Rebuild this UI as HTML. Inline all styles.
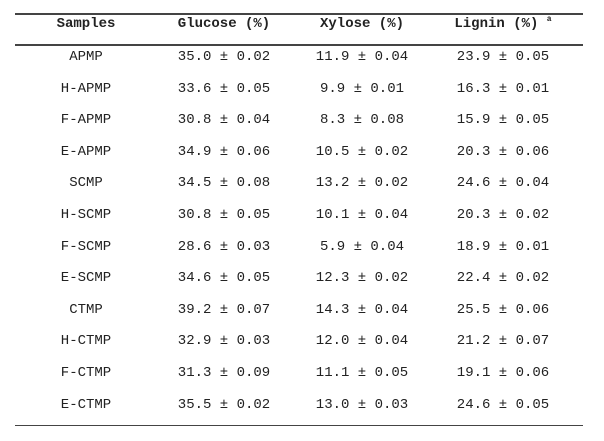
<!DOCTYPE html>
<html><head><meta charset="utf-8"><style>
body{margin:0;width:604px;height:441px;background:#fff;position:relative;font-family:"Liberation Mono","Noto Sans CJK SC",monospace;font-size:14px;color:#222;overflow:hidden}
.l{position:absolute;left:15px;width:568px;background:#444}
.c{position:absolute;transform:translateX(-50%);white-space:pre;line-height:16px;height:16px}
.h{font-weight:bold}
.s{font-size:8px;position:relative;top:-6px;line-height:0}
</style></head><body>
<div class="l" style="top:13px;height:2px"></div>
<div class="l" style="top:44px;height:2px"></div>
<div class="l" style="top:425px;height:1px"></div>
<div id="t"></div>
<script>
var rows=[["Samples","Glucose (%)","Xylose (%)","Lignin (%) <span class=\"s\">a</span>"],
["APMP","35.0 ± 0.02","11.9 ± 0.04","23.9 ± 0.05"],
["H-APMP","33.6 ± 0.05","9.9 ± 0.01","16.3 ± 0.01"],
["F-APMP","30.8 ± 0.04","8.3 ± 0.08","15.9 ± 0.05"],
["E-APMP","34.9 ± 0.06","10.5 ± 0.02","20.3 ± 0.06"],
["SCMP","34.5 ± 0.08","13.2 ± 0.02","24.6 ± 0.04"],
["H-SCMP","30.8 ± 0.05","10.1 ± 0.04","20.3 ± 0.02"],
["F-SCMP","28.6 ± 0.03","5.9 ± 0.04","18.9 ± 0.01"],
["E-SCMP","34.6 ± 0.05","12.3 ± 0.02","22.4 ± 0.02"],
["CTMP","39.2 ± 0.07","14.3 ± 0.04","25.5 ± 0.06"],
["H-CTMP","32.9 ± 0.03","12.0 ± 0.04","21.2 ± 0.07"],
["F-CTMP","31.3 ± 0.09","11.1 ± 0.05","19.1 ± 0.06"],
["E-CTMP","35.5 ± 0.02","13.0 ± 0.03","24.6 ± 0.05"]];
var xs=[86,224,362,503],h="";
rows.forEach(function(r,i){var y=i==0?16:57+(i-1)*31.6-8;
r.forEach(function(t,j){h+='<div class="c'+(i==0?' h':'')+'" style="left:'+xs[j]+'px;top:'+y+'px">'+t+'</div>';});});
document.getElementById('t').innerHTML=h;
</script>
</body></html>
